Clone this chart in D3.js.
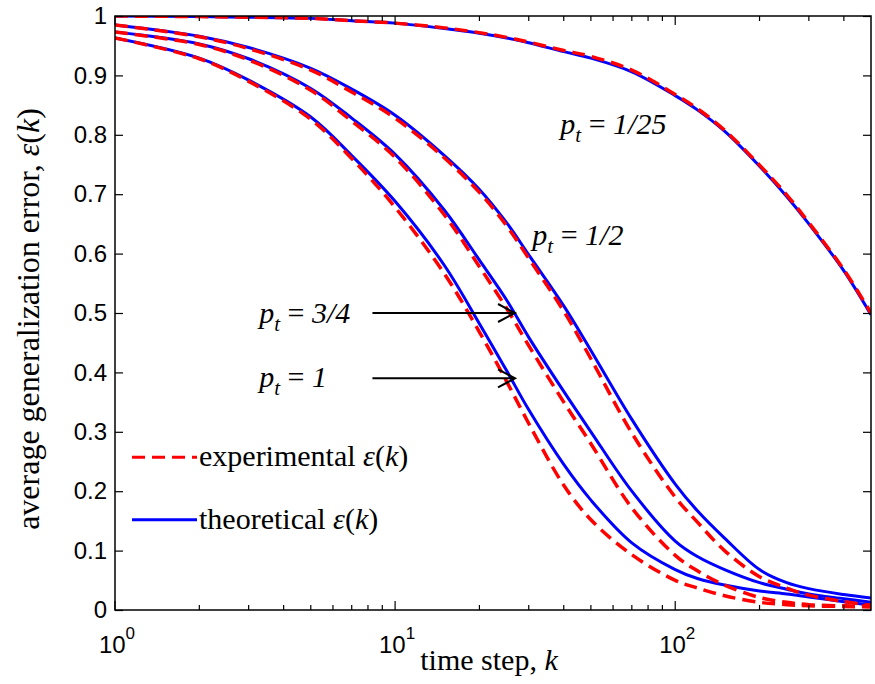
<!DOCTYPE html>
<meta charset="utf-8">
<head>
    <title>Average generalization error</title>
</head>
<style>
    body { margin: 0; background: #fff; }
    .tick-label { font-family: "Liberation Sans", Arial, sans-serif; font-size: 24px; }
    .serif { font-family: "Liberation Serif", "Times New Roman", serif; }
</style>
<script src="https://d3js.org/d3.v7.min.js"></script>
<body>
    <div id="chart"></div>
</body>
<script>

    // time steps where the curves were read
    var kSteps = [1, 2, 3, 5, 7, 10, 15, 20, 25, 30, 40, 50, 70, 100, 120, 150, 200, 250, 300, 400, 500];

    // theoretical (blue) and experimental (red) curves
    var theoryP25 = [1.0, 0.999, 0.998, 0.996, 0.992, 0.988, 0.979, 0.971, 0.963, 0.955, 0.940, 0.929, 0.906, 0.866, 0.842, 0.806, 0.747, 0.696, 0.650, 0.571, 0.497];
    var exptP25   = [1.0, 0.999, 0.998, 0.996, 0.992, 0.988, 0.980, 0.972, 0.964, 0.956, 0.942, 0.932, 0.909, 0.868, 0.844, 0.808, 0.749, 0.699, 0.652, 0.573, 0.500];
    var theoryP2  = [0.985, 0.966, 0.947, 0.912, 0.877, 0.833, 0.765, 0.708, 0.652, 0.598, 0.512, 0.437, 0.321, 0.212, 0.167, 0.121, 0.068, 0.046, 0.036, 0.026, 0.020];
    var exptP2    = [0.985, 0.965, 0.945, 0.909, 0.872, 0.828, 0.761, 0.703, 0.647, 0.592, 0.503, 0.423, 0.298, 0.190, 0.148, 0.100, 0.056, 0.037, 0.025, 0.014, 0.008];
    var theoryP34 = [0.973, 0.953, 0.928, 0.878, 0.828, 0.767, 0.673, 0.589, 0.522, 0.459, 0.368, 0.300, 0.200, 0.116, 0.090, 0.068, 0.046, 0.035, 0.027, 0.019, 0.013];
    var exptP34   = [0.973, 0.952, 0.926, 0.875, 0.823, 0.762, 0.665, 0.578, 0.508, 0.445, 0.350, 0.280, 0.172, 0.092, 0.066, 0.042, 0.021, 0.013, 0.009, 0.007, 0.007];
    var theoryP1  = [0.963, 0.929, 0.892, 0.830, 0.765, 0.688, 0.580, 0.482, 0.403, 0.337, 0.245, 0.185, 0.113, 0.068, 0.053, 0.042, 0.032, 0.027, 0.022, 0.014, 0.008];
    var exptP1    = [0.963, 0.928, 0.890, 0.826, 0.760, 0.678, 0.566, 0.468, 0.385, 0.314, 0.210, 0.152, 0.093, 0.050, 0.037, 0.024, 0.013, 0.009, 0.007, 0.006, 0.005];

    var yTicks = [0, 0.1, 0.2, 0.3, 0.4, 0.5, 0.6, 0.7, 0.8, 0.9, 1];
    var yTickLabels = ["0", "0.1", "0.2", "0.3", "0.4", "0.5", "0.6", "0.7", "0.8", "0.9", "1"];
    var xMajor = [1, 10, 100];
    var xMajorExp = ["0", "1", "2"];
    var xMinor = [2, 3, 4, 5, 6, 7, 8, 9, 20, 30, 40, 50, 60, 70, 80, 90, 200, 300, 400];

    var curveLabels = [
        { pt: "1/25", k: 38.9, v: 0.801 },
        { pt: "1/2", k: 30.9, v: 0.614 },
        { pt: "3/4", k: 3.27, v: 0.483 },
        { pt: "1", k: 3.27, v: 0.375 }
    ];
    var arrows = [
        { from: [8.3, 0.5], to: [26.8, 0.5] },
        { from: [8.3, 0.39], to: [26.8, 0.39] }
    ];

    var margin = { top: 16, right: 4, bottom: 74, left: 115 },
        width = 875 - margin.left - margin.right,
        height = 684 - margin.top - margin.bottom;

    var svg = d3.select("#chart")
        .append("svg")
        .attr("width", 875)
        .attr("height", 684)
        .append("g")
        .attr("transform", "translate(" + margin.left + "," + margin.top + ")");

    var x = d3.scaleLog().domain([1, 500]).range([0, width]);
    var y = d3.scaleLinear().domain([0, 1]).range([height, 0]);

    svg.append("clipPath").attr("id", "clip")
        .append("rect").attr("width", width).attr("height", height);

    var line = d3.line()
        .curve(d3.curveCatmullRom.alpha(0.5))
        .x(function (d) { return x(d[0]); })
        .y(function (d) { return y(d[1]); });

    function pairs(vals) {
        return kSteps.map(function (k, i) { return [k, vals[i]]; });
    }

    var plot = svg.append("g").attr("clip-path", "url(#clip)");

    [theoryP25, theoryP2, theoryP34, theoryP1].forEach(function (s) {
        plot.append("path")
            .datum(pairs(s))
            .attr("fill", "none")
            .attr("stroke", "#0000ff")
            .attr("stroke-width", 3)
            .attr("d", line);
    });
    [exptP25, exptP2, exptP34, exptP1].forEach(function (s) {
        plot.append("path")
            .datum(pairs(s))
            .attr("fill", "none")
            .attr("stroke", "#ff0000")
            .attr("stroke-width", 3.5)
            .attr("stroke-dasharray", "13,7")
            .attr("d", line);
    });

    // box with inward ticks on all sides
    svg.append("rect")
        .attr("width", width).attr("height", height)
        .attr("fill", "none").attr("stroke", "#000").attr("stroke-width", 1.5);

    var yAxisL = d3.axisLeft(y).tickValues(yTicks).tickSizeInner(-8).tickSizeOuter(0)
        .tickFormat(function (d, i) { return yTickLabels[i]; }).tickPadding(8);
    var gy = svg.append("g").call(yAxisL);
    gy.select(".domain").remove();
    gy.selectAll("line").attr("stroke-width", 1.2);
    gy.selectAll("text").attr("class", "tick-label").attr("fill", "#000");

    var yAxisR = d3.axisRight(y).tickValues(yTicks).tickSizeInner(-8).tickSizeOuter(0).tickFormat("");
    var gyr = svg.append("g").attr("transform", "translate(" + width + ",0)").call(yAxisR);
    gyr.select(".domain").remove();
    gyr.selectAll("line").attr("stroke-width", 1.2);

    [["bottom", height, -1], ["top", 0, 1]].forEach(function (side) {
        var g = svg.append("g").attr("transform", "translate(0," + side[1] + ")");
        g.selectAll(".major").data(xMajor).enter().append("line")
            .attr("x1", function (d) { return x(d); }).attr("x2", function (d) { return x(d); })
            .attr("y1", 0).attr("y2", side[2] * 9)
            .attr("stroke", "#000").attr("stroke-width", 1.2);
        g.selectAll(".minor").data(xMinor).enter().append("line")
            .attr("x1", function (d) { return x(d); }).attr("x2", function (d) { return x(d); })
            .attr("y1", 0).attr("y2", side[2] * 5)
            .attr("stroke", "#000").attr("stroke-width", 1.2);
    });

    // 10^n labels
    var xl = svg.selectAll(".xlab").data(xMajor).enter().append("text")
        .attr("class", "tick-label")
        .attr("x", function (d) { return x(d) + 2; })
        .attr("y", height + 43)
        .attr("text-anchor", "middle");
    xl.append("tspan").text("10");
    xl.append("tspan").attr("dy", -14).attr("font-size", "17px")
        .text(function (d, i) { return xMajorExp[i]; });

    // axis titles
    var xt = svg.append("text").attr("class", "serif")
        .attr("x", width / 2 - 4).attr("y", height + 60)
        .attr("text-anchor", "middle").attr("font-size", "30px");
    xt.append("tspan").text("time step, ");
    xt.append("tspan").attr("font-style", "italic").text("k");

    var yt = svg.append("text").attr("class", "serif")
        .attr("transform", "translate(-76," + (height / 2 + 6) + ") rotate(-90)")
        .attr("text-anchor", "middle").attr("font-size", "32px");
    yt.append("tspan").text("average generalization error, ");
    yt.append("tspan").attr("font-style", "italic").text("ε");
    yt.append("tspan").text("(");
    yt.append("tspan").attr("font-style", "italic").text("k");
    yt.append("tspan").text(")");

    // curve labels
    curveLabels.forEach(function (c) {
        var t = svg.append("text").attr("class", "serif")
            .attr("x", x(c.k)).attr("y", y(c.v)).attr("font-size", "30px");
        t.append("tspan").attr("font-style", "italic").text("p");
        t.append("tspan").attr("font-style", "italic").attr("font-size", "21px").attr("dy", 8).text("t");
        t.append("tspan").attr("dy", -8).text(" = ");
        t.append("tspan").attr("font-style", "italic").text(c.pt);
    });

    // arrows
    arrows.forEach(function (a) {
        var x1 = x(a.from[0]), x2 = x(a.to[0]), yy = y(a.to[1]);
        svg.append("line").attr("x1", x1).attr("x2", x2).attr("y1", yy).attr("y2", yy)
            .attr("stroke", "#000").attr("stroke-width", 2);
        svg.append("path")
            .attr("d", "M" + (x2 - 17) + "," + (yy - 9) + "L" + x2 + "," + yy + "L" + (x2 - 17) + "," + (yy + 9))
            .attr("fill", "none").attr("stroke", "#000").attr("stroke-width", 2);
    });

    // legend
    var legend = [
        { label: "experimental ", v: 0.257, color: "#ff0000", dash: "13,7", w: 3 },
        { label: "theoretical ", v: 0.152, color: "#0000ff", dash: null, w: 3 }
    ];
    legend.forEach(function (l) {
        var yy = y(l.v);
        svg.append("line").attr("x1", 17).attr("x2", 82).attr("y1", yy).attr("y2", yy)
            .attr("stroke", l.color).attr("stroke-width", l.w)
            .attr("stroke-dasharray", l.dash);
        var t = svg.append("text").attr("class", "serif")
            .attr("x", 84).attr("y", yy + 9).attr("font-size", "30px");
        t.append("tspan").text(l.label);
        t.append("tspan").attr("font-style", "italic").text("ε");
        t.append("tspan").text("(");
        t.append("tspan").attr("font-style", "italic").text("k");
        t.append("tspan").text(")");
    });

</script>
